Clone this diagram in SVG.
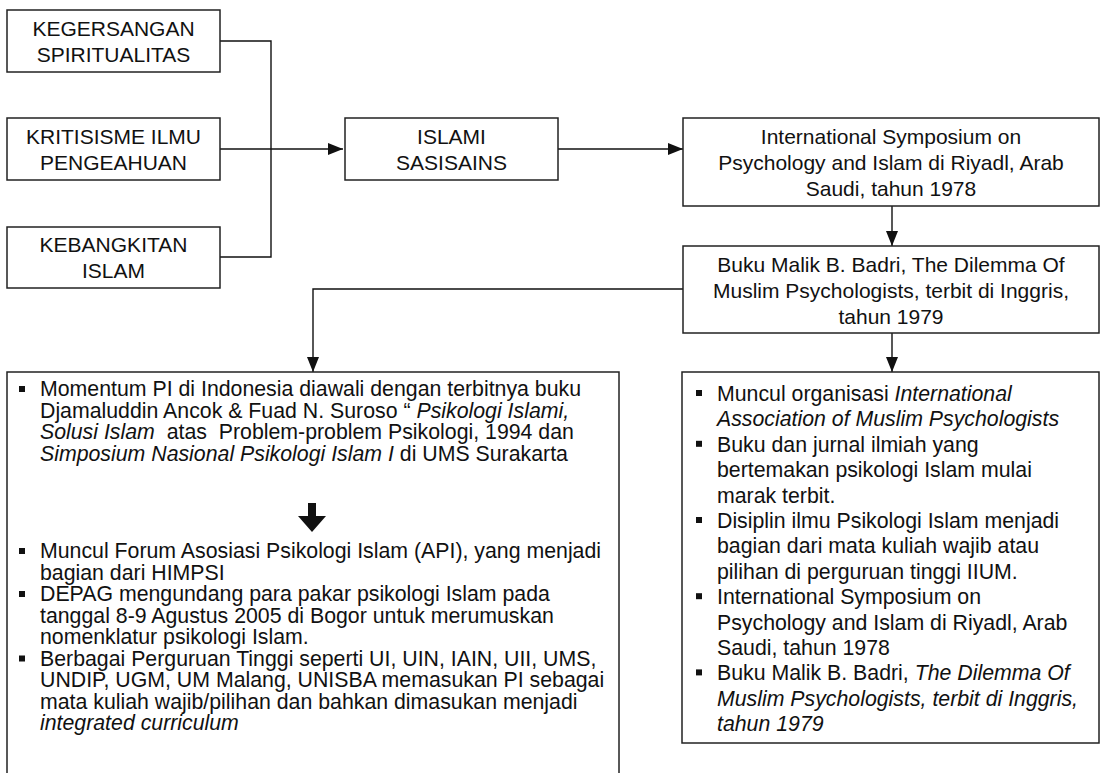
<svg xmlns="http://www.w3.org/2000/svg" width="1101" height="773" viewBox="0 0 1101 773">
<defs>
<marker id="ah" markerWidth="15" markerHeight="12" refX="15" refY="6" orient="auto" markerUnits="userSpaceOnUse"><path d="M0,0 L15,6 L0,12 Z" fill="#111"/></marker>
</defs>
<style>
.box{fill:#fff;stroke:#222;stroke-width:1.5}
.t{font-family:"Liberation Sans",Arial,sans-serif;font-size:21px;fill:#111;white-space:pre}
.l{font-size:21.3px}
.c{text-anchor:middle}
.i{font-style:italic}
.ln{fill:none;stroke:#111;stroke-width:1.4}
.bl{fill:#111}
</style>
<rect width="1101" height="773" fill="#fff"/>

<g id="connectors">
<path class="ln" d="M220,41 H271 V257 H220"/>
<path class="ln" d="M220,149 H343" marker-end="url(#ah)"/>
<path class="ln" d="M558,149 H683" marker-end="url(#ah)"/>
<path class="ln" d="M892,206 V246" marker-end="url(#ah)"/>
<path class="ln" d="M683,289 H313 V372" marker-end="url(#ah)"/>
<path class="ln" d="M892,333 V372" marker-end="url(#ah)"/>
</g>

<g id="kegersangan">
<rect class="box" x="7" y="10" width="213" height="62"/>
<text class="t c" x="113.5" y="36">KEGERSANGAN</text>
<text class="t c" x="113.5" y="62">SPIRITUALITAS</text>
</g>

<g id="kritisisme">
<rect class="box" x="7" y="118" width="213" height="62"/>
<text class="t c" x="113.5" y="144">KRITISISME ILMU</text>
<text class="t c" x="113.5" y="170">PENGEAHUAN</text>
</g>

<g id="kebangkitan">
<rect class="box" x="7" y="227" width="213" height="61"/>
<text class="t c" x="113.5" y="252">KEBANGKITAN</text>
<text class="t c" x="113.5" y="278">ISLAM</text>
</g>

<g id="islami">
<rect class="box" x="345" y="118" width="213" height="62"/>
<text class="t c" x="451.5" y="144">ISLAMI</text>
<text class="t c" x="451.5" y="170">SASISAINS</text>
</g>

<g id="symposium">
<rect class="box" x="683" y="118" width="416" height="88"/>
<text class="t c" x="891" y="143.5">International Symposium on</text>
<text class="t c" x="891" y="170">Psychology and Islam di Riyadl, Arab</text>
<text class="t c" x="891" y="196">Saudi, tahun 1978</text>
</g>

<g id="buku">
<rect class="box" x="683" y="246" width="416" height="87"/>
<text class="t c" x="891" y="272">Buku Malik B. Badri, The Dilemma Of</text>
<text class="t c" x="891" y="298">Muslim Psychologists, terbit di Inggris,</text>
<text class="t c" x="891" y="323.5">tahun 1979</text>
</g>

<g id="indonesia">
<rect class="box" x="7" y="372" width="612" height="420"/>
<rect class="bl" x="19" y="386" width="6" height="6"/>
<text class="t l" x="40" y="396">Momentum PI di Indonesia diawali dengan terbitnya buku</text>
<text class="t l" x="40" y="417.5">Djamaluddin Ancok &amp; Fuad N. Suroso “ <tspan class="i">Psikologi Islami,</tspan></text>
<text class="t l" x="40" y="439"><tspan class="i">Solusi Islam</tspan>  atas  Problem-problem Psikologi, 1994 dan</text>
<text class="t l" x="40" y="460.5"><tspan class="i">Simposium Nasional Psikologi Islam I</tspan> di UMS Surakarta</text>
<path class="bl" d="M308,503 H316 V516 H326 L312,532 L298,516 H308 Z"/>
<rect class="bl" x="19" y="548" width="6" height="6"/>
<text class="t l" x="40" y="558">Muncul Forum Asosiasi Psikologi Islam (API), yang menjadi</text>
<text class="t l" x="40" y="579.5">bagian dari HIMPSI</text>
<rect class="bl" x="19" y="591" width="6" height="6"/>
<text class="t l" x="40" y="601">DEPAG mengundang para pakar psikologi Islam pada</text>
<text class="t l" x="40" y="622.5">tanggal 8-9 Agustus 2005 di Bogor untuk merumuskan</text>
<text class="t l" x="40" y="644">nomenklatur psikologi Islam.</text>
<rect class="bl" x="19" y="655.5" width="6" height="6"/>
<text class="t l" x="40" y="665.5">Berbagai Perguruan Tinggi seperti UI, UIN, IAIN, UII, UMS,</text>
<text class="t l" x="40" y="687">UNDIP, UGM, UM Malang, UNISBA memasukan PI sebagai</text>
<text class="t l" x="40" y="708.5">mata kuliah wajib/pilihan dan bahkan dimasukan menjadi</text>
<text class="t l i" x="40" y="730">integrated curriculum</text>
</g>

<g id="internasional">
<rect class="box" x="682" y="372" width="417" height="371"/>
<rect class="bl" x="696" y="390" width="6" height="6"/>
<text class="t l" x="717" y="401">Muncul organisasi <tspan class="i">International</tspan></text>
<text class="t l i" x="717" y="426.4">Association of Muslim Psychologists</text>
<rect class="bl" x="696" y="440.8" width="6" height="6"/>
<text class="t l" x="717" y="451.8">Buku dan jurnal ilmiah yang</text>
<text class="t l" x="717" y="477.2">bertemakan psikologi Islam mulai</text>
<text class="t l" x="717" y="502.6">marak terbit.</text>
<rect class="bl" x="696" y="517" width="6" height="6"/>
<text class="t l" x="717" y="528">Disiplin ilmu Psikologi Islam menjadi</text>
<text class="t l" x="717" y="553.4">bagian dari mata kuliah wajib atau</text>
<text class="t l" x="717" y="578.8">pilihan di perguruan tinggi IIUM.</text>
<rect class="bl" x="696" y="593.2" width="6" height="6"/>
<text class="t l" x="717" y="604.2">International Symposium on</text>
<text class="t l" x="717" y="629.6">Psychology and Islam di Riyadl, Arab</text>
<text class="t l" x="717" y="655">Saudi, tahun 1978</text>
<rect class="bl" x="696" y="669.4" width="6" height="6"/>
<text class="t l" x="717" y="680.4">Buku Malik B. Badri, <tspan class="i">The Dilemma Of</tspan></text>
<text class="t l i" x="717" y="705.8">Muslim Psychologists, terbit di Inggris,</text>
<text class="t l i" x="717" y="731.2">tahun 1979</text>
</g>
</svg>
